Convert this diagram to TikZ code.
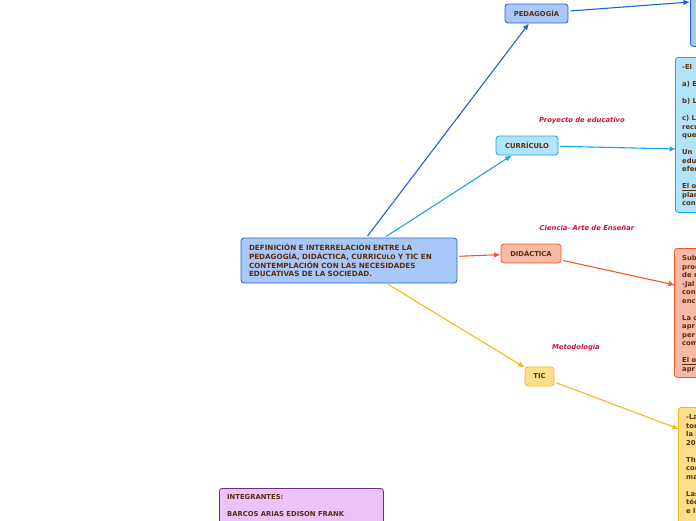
\documentclass[tikz,border=0pt]{standalone}
\usepackage{fontspec}
\setmainfont{DejaVu Sans}
\usetikzlibrary{arrows.meta,positioning}

\definecolor{pedfill}{HTML}{A8C8FA}
\definecolor{pedline}{HTML}{1F62D4}
\definecolor{curfill}{HTML}{B2E4F9}
\definecolor{curline}{HTML}{17A5E3}
\definecolor{didfill}{HTML}{F8B9A6}
\definecolor{didline}{HTML}{F2582A}
\definecolor{ticfill}{HTML}{FDDE8B}
\definecolor{ticline}{HTML}{F8B51A}
\definecolor{intfill}{HTML}{ECC3F9}
\definecolor{intline}{HTML}{6E2A85}
\definecolor{txtbrown}{HTML}{5B2C0C}
\definecolor{tagred}{HTML}{C8143C}

\begin{document}
\begin{tikzpicture}[x=1pt,y=-1pt,
    font=\fontsize{6.8}{8.5}\selectfont\bfseries,
    box/.style={draw, rounded corners=3pt, line width=0.8pt, text=txtbrown, inner sep=0pt},
    note/.style={align=left, anchor=north west, inner sep=0pt, text=txtbrown},
    tag/.style={text=tagred, font=\fontsize{6.8}{8.5}\selectfont\bfseries\itshape},
    link/.style={line width=1.1pt, shorten <=2pt, -{Latex[length=6.5pt,width=5.5pt]}}]
  \useasboundingbox (0,0) rectangle (696,520);
  \clip (0,0) rectangle (696,520);
  % central topic
  \node[box, draw=pedline, fill=pedfill, minimum width=216pt, minimum height=45pt,
        text width=200pt, align=left, font=\fontsize{7.2}{8.7}\selectfont\bfseries] (main) at (349,260.5)
        {DEFINICIÓN E INTERRELACIÓN ENTRE LA\\
         PEDAGOGÍA, DIDÁCTICA, CURRIC{\fontsize{6.2}{8.7}\selectfont ULO} Y TIC EN\\
         CONTEMPLACIÓN CON LAS NECESIDADES\\
         EDUCATIVAS DE LA SOCIEDAD.};
  % main branches
  \node[box, draw=pedline, fill=pedfill, minimum width=63pt, minimum height=19pt] (ped) at (536.5,13.5) {PEDAGOGÍA};
  \node[box, draw=curline, fill=curfill, minimum width=62pt, minimum height=19pt] (curr) at (527,145.5) {CURRÍCULO};
  \node[box, draw=didline, fill=didfill, minimum width=60pt, minimum height=19pt] (did) at (531,253.5) {DIDÁCTICA};
  \node[box, draw=ticline, fill=ticfill, minimum width=29pt, minimum height=19pt] (tic) at (539.5,376.5) {TIC};
  % labels
  \node[tag] (currtag) at (582,121) {Proyecto de educativo};
  \node[tag] (didtag) at (587,228) {Ciencia- Arte de Enseñar};
  \node[tag] (tictag) at (576,348) {Metodología};
  % detail boxes
  \node[box, draw=pedline, fill=pedfill, anchor=north west, minimum width=80pt, minimum height=150pt] (pedbox) at (690,-104) {};
  \node[box, draw=curline, fill=curfill, anchor=north west, minimum width=80pt, minimum height=155pt] (currbox) at (675,57) {};
  \node[box, draw=didline, fill=didfill, anchor=north west, minimum width=80pt, minimum height=129pt] (didbox) at (674,248) {};
  \node[box, draw=ticline, fill=ticfill, anchor=north west, minimum width=80pt, minimum height=160pt] (ticbox) at (678,407) {};
  \node[note] (currtxt) at (682,64.5)
    {-El\\[8.5pt] a) E\\[8.5pt] b) L\\[8.5pt] c) L\\ recu\\ que\\[8.5pt] Un\\ edu\\ efec\\[8.5pt] \underline{El o}\\ plan\\ con};
  \node[note] (didtxt) at (682,255.5)
    {Sub\\ proc\\ de n\\ -Jal\\ con\\ enc\\[8.5pt] La c\\ apr\\ per\\ com\\[8.5pt] \underline{El o}\\ apr};
  \node[note] (tictxt) at (686,414.5)
    {-La\\ tor\\ la l\\ 20\\[8.5pt] The\\ cor\\ ma\\[8.5pt] Las\\ téc\\ e l};
  % members
  \node[box, draw=intline, fill=intfill, anchor=north west, minimum width=164pt, minimum height=60pt] (intbox) at (219,488) {};
  \node[note] (inttxt) at (227,494.5) {INTEGRANTES:\\[8.5pt] BARCOS ARIAS EDISON FRANK};
  % lines...
  \coordinate (pedin) at (690,2);
  \coordinate (currin) at (676,149);
  \coordinate (didin) at (675,285);
  \coordinate (ticin) at (679,429);
  \draw[link, pedline] (main) -- (ped);
  \draw[link, curline] (main) -- (curr);
  \draw[link, didline] (main) -- (did);
  \draw[link, ticline] (main) -- (tic);
  \draw[link, pedline] (ped) -- (pedin);
  \draw[link, curline] (curr) -- (currin);
  \draw[link, didline] (did) -- (didin);
  \draw[link, ticline] (tic) -- (ticin);
\end{tikzpicture}
\end{document}
